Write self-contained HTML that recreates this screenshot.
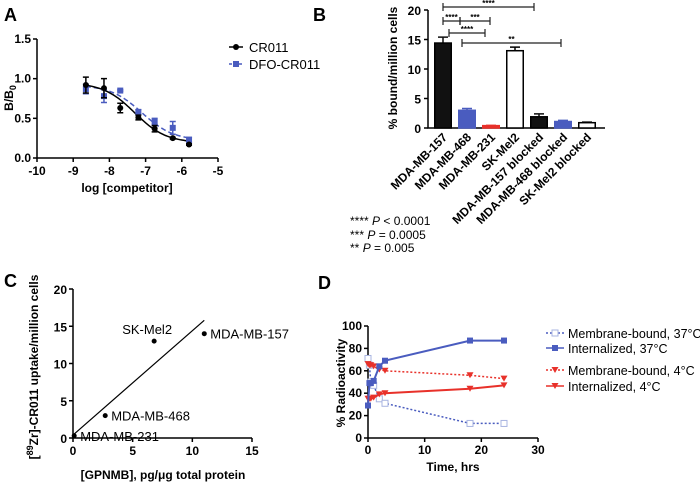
<!DOCTYPE html>
<html><head><meta charset="utf-8"><style>
body{margin:0;background:#fff}
svg{display:block;font-family:"Liberation Sans",Arial,sans-serif}
.t{font-weight:bold;font-size:12px}
</style></head><body>
<svg id="fig" width="700" height="486" viewBox="0 0 700 486" xmlns="http://www.w3.org/2000/svg">
<g id="pa"></g>
<g id="pb"></g>
<g id="pc"></g>
<g id="pd"></g>
</svg>
<script>
// Panel A data
const aX = [-8.65,-8.15,-7.7,-7.2,-6.75,-6.25,-5.8];
const aCR = [0.92,0.88,0.63,0.51,0.37,0.25,0.17];
const aCRerr = [0.1,0.12,0.06,0.03,0.04,0.01,0.01];
const aDFO = [0.87,0.78,0.85,0.58,0.46,0.38,0.23];
const aDFOerr = [0.06,0.08,0.01,0.03,0.04,0.08,0.03];
const aXTicks = [-10,-9,-8,-7,-6,-5];
const aYTicks = [0,0.5,1.0,1.5];
// Panel B data
const bCats = ["MDA-MB-157","MDA-MB-468","MDA-MB-231","SK-Mel2","MDA-MB-157 blocked","MDA-MB-468 blocked","SK-Mel2 blocked"];
const bVals = [14.4,3.0,0.4,13.1,1.9,1.1,0.9];
const bErr = [1.0,0.3,0.05,0.6,0.5,0.2,0.1];
const bYTicks = [0,5,10,15,20];
// Panel C data
const cX = [0.1,2.7,6.8,11];
const cY = [0.3,3,13,14];
const cLabels = ["MDA-MB-231","MDA-MB-468","SK-Mel2","MDA-MB-157"];
const cFit = [0.4,1.4]; // intercept, slope
const cXTicks = [0,5,10,15];
const cYTicks = [0,5,10,15,20];
// Panel D data
const dT = [0,0.25,0.5,1,2,3,18,24];
const dMem37 = [71,65,50,47,35,31,13,13];
const dInt37 = [29,49,49,51,64,69,87,87];
const dMem4 = [66,65,65,64,61,60,56,53];
const dInt4 = [35,35,35,36,39,40,44,47];
const dXTicks = [0,10,20,30];
const dYTicks = [0,20,40,60,80,100];

const NS="http://www.w3.org/2000/svg";
function mk(p,tag,at,txt){const e=document.createElementNS(NS,tag);for(const k in at)e.setAttribute(k,at[k]);if(txt!==undefined)e.textContent=txt;p.appendChild(e);return e;}
const BLUE="#4a5cbf",RED="#e8312a";

// ---------- Panel A ----------
(function(){
const g=document.getElementById('pa');
const X=v=>37+(v+10)/5*181, Y=v=>158-v/1.5*119;
let t=mk(g,'text',{x:4,y:21,'font-size':18,'font-weight':'bold'},'A');

let ax=mk(g,'path',{d:`M37,${Y(1.5)}V158H${X(-5)}`,stroke:'#000','stroke-width':1.5,fill:'none'});

aXTicks.forEach(v=>{mk(g,'line',{x1:X(v),x2:X(v),y1:158,y2:162,stroke:'#000','stroke-width':1.5});
 const l=mk(g,'text',{x:X(v),y:175,'text-anchor':'middle',class:'t','font-size':13},v);});
aYTicks.forEach(v=>{mk(g,'line',{x1:33,x2:37,y1:Y(v),y2:Y(v),stroke:'#000','stroke-width':1.5});
 const l=mk(g,'text',{x:31,y:Y(v)+4,'text-anchor':'end',class:'t','font-size':13},v.toFixed(1));});
t=mk(g,'text',{x:127,y:192,'text-anchor':'middle',class:'t','font-size':13},'log [competitor]');
t=mk(g,'text',{transform:'translate(13,98) rotate(-90)','text-anchor':'middle',class:'t'});
t.innerHTML='B/B<tspan font-size="9" dy="3">0</tspan>';
function sig(bot,top,ec50,h){return x=>bot+(top-bot)/(1+Math.pow(10,(x-ec50)*h));}
const f1=sig(0.19,0.95,-7.3,1), f2=sig(0.22,0.92,-7.1,1);
function curve(f,col,dash,name){let d='';for(let x=-8.65;x<=-5.79;x+=0.05)d+=(d?'L':'M')+X(x).toFixed(1)+','+Y(f(x)).toFixed(1);
 const p=mk(g,'path',{d,stroke:col,'stroke-width':1.5,fill:'none','stroke-dasharray':dash||'none'});}
curve(f2,BLUE,'5,3','dfo-cr011-fit');curve(f1,'#000','','cr011-fit');
aX.forEach((x,i)=>{
 [[aDFO,aDFOerr,BLUE,'dfo-point'],[aCR,aCRerr,'#000','cr011-point']].forEach(([ys,es,c,n])=>{
 const cx=X(x),cy=Y(ys[i]),e=es[i]/1.5*119;
 mk(g,'path',{d:`M${cx},${cy-e}V${cy+e}M${cx-3},${cy-e}H${cx+3}M${cx-3},${cy+e}H${cx+3}`,stroke:c,'stroke-width':1.5});
 const m=c==='#000'?mk(g,'circle',{cx,cy,r:3,fill:c}):mk(g,'rect',{x:cx-3,y:cy-3,width:6,height:6,fill:c});
 });
});
mk(g,'line',{x1:229,x2:243,y1:47,y2:47,stroke:'#000','stroke-width':1.5});mk(g,'circle',{cx:236,cy:47,r:3});
t=mk(g,'text',{x:249,y:52,'font-size':13},'CR011');
mk(g,'line',{x1:229,x2:243,y1:64,y2:64,stroke:BLUE,'stroke-width':1.5,'stroke-dasharray':'3,2'});mk(g,'rect',{x:233,y:61,width:6,height:6,fill:BLUE});
t=mk(g,'text',{x:249,y:69,'font-size':13},'DFO-CR011');
})();

// ---------- Panel B ----------
(function(){
const g=document.getElementById('pb');
const Y=v=>128-v/20*118, BX=i=>434+i*24, W=18;
let t=mk(g,'text',{x:313,y:21,'font-size':18,'font-weight':'bold'},'B');
let ax=mk(g,'path',{d:`M428,10V128H605`,stroke:'#000','stroke-width':1.5,fill:'none'});
bYTicks.forEach(v=>{mk(g,'line',{x1:424,x2:428,y1:Y(v),y2:Y(v),stroke:'#000','stroke-width':1.5});
 const l=mk(g,'text',{x:421,y:Y(v)+5,'text-anchor':'end',class:'t','font-size':15},v);});
t=mk(g,'text',{transform:'translate(397,68) rotate(-90)','text-anchor':'middle',class:'t','font-size':15},'% bound/million cells');
const fills=['#111',BLUE,RED,'#fff','#111',BLUE,'#fff'];
bCats.forEach((c,i)=>{
 const x=BX(i),y=Y(bVals[i]),ye=Y(bVals[i]+bErr[i]),cx=x+W/2;
 mk(g,'path',{d:`M${cx},${y}V${ye}M${cx-5},${ye}H${cx+5}`,stroke:fills[i]==='#fff'?'#000':fills[i],'stroke-width':1.5});
 const r=mk(g,'rect',{x:x+0.75,y,width:W-1.5,height:128-y,fill:fills[i],stroke:(fills[i]==='#fff'||fills[i]==='#111')?'#000':fills[i],'stroke-width':1.5});
 
 const l=mk(g,'text',{transform:`translate(${cx+5},${138}) rotate(-45)`,'text-anchor':'end',class:'t','font-size':15.5},c);
 
});
[[443,534,7,'****'],[443,460,21,'****'],[460,490,21,'***'],[449,485,33,'****'],[462,561,43,'**']].forEach(([a,b,y,s])=>{
 const p=mk(g,'path',{d:`M${a},${y-4}V${y+4}M${a},${y}H${b}M${b},${y-4}V${y+4}`,stroke:'#222','stroke-width':1.2,fill:'none'});
 
 mk(g,'text',{x:(a+b)/2,y:y-1,'text-anchor':'middle','font-size':8,'font-weight':'bold'},s);
});
[['**** ','< 0.0001',225],['*** ','= 0.0005',239],['** ','= 0.005',252]].forEach(([s,v,y])=>{
 const l=mk(g,'text',{x:350,y,'font-size':12});l.innerHTML=s+'<tspan font-style="italic">P</tspan> '+v;
 });
})();

// ---------- Panel C ----------
(function(){
const g=document.getElementById('pc');
const X=v=>73+v/15*179, Y=v=>438-v/20*149;
let t=mk(g,'text',{x:4,y:287,'font-size':18,'font-weight':'bold'},'C');
let ax=mk(g,'path',{d:`M73,${Y(20)}V438H${X(15)}`,stroke:'#000','stroke-width':1.5,fill:'none'});
cXTicks.forEach(v=>{mk(g,'line',{x1:X(v),x2:X(v),y1:438,y2:442,stroke:'#000','stroke-width':1.5});
 const l=mk(g,'text',{x:X(v),y:455,'text-anchor':'middle',class:'t','font-size':14},v);});
cYTicks.forEach(v=>{mk(g,'line',{x1:69,x2:73,y1:Y(v),y2:Y(v),stroke:'#000','stroke-width':1.5});
 const l=mk(g,'text',{x:67,y:Y(v)+5,'text-anchor':'end',class:'t','font-size':14},v);});
t=mk(g,'text',{x:163,y:479,'text-anchor':'middle',class:'t','font-size':13},'[GPNMB], pg/μg total protein');
t=mk(g,'text',{transform:'translate(38,367) rotate(-90)','text-anchor':'middle',class:'t','font-size':13});t.innerHTML='[<tspan font-size="9" dy="-5">89</tspan><tspan dy="5">Zr]-CR011 uptake/million cells</tspan>';

const xe=(15.8-cFit[0])/cFit[1];
let ln=mk(g,'line',{x1:X(0),y1:Y(cFit[0]),x2:X(xe),y2:Y(cFit[0]+cFit[1]*xe),stroke:'#000','stroke-width':1.2});
const off=[[6,4],[6,4],[-18,-8],[6,4]];
cX.forEach((x,i)=>{const c=mk(g,'circle',{cx:X(x),cy:Y(cY[i]),r:2.5});
 const l=mk(g,'text',{x:X(x)+off[i][0],y:Y(cY[i])+off[i][1]+1,'font-size':13,'text-anchor':i===2?'middle':'start'},cLabels[i]);
 if(i===2){l.setAttribute('x',X(x)-7);}
 });
})();

// ---------- Panel D ----------
(function(){
const g=document.getElementById('pd');
const X=v=>368+v/30*170, Y=v=>438-v/100*112;
let t=mk(g,'text',{x:318,y:289,'font-size':18,'font-weight':'bold'},'D');
let ax=mk(g,'path',{d:`M368,${Y(100)}V438H${X(30)}`,stroke:'#000','stroke-width':1.5,fill:'none'});
dXTicks.forEach(v=>{mk(g,'line',{x1:X(v),x2:X(v),y1:438,y2:442,stroke:'#000','stroke-width':1.5});
 const l=mk(g,'text',{x:X(v),y:454,'text-anchor':'middle',class:'t','font-size':13},v);});
dYTicks.forEach(v=>{mk(g,'line',{x1:364,x2:368,y1:Y(v),y2:Y(v),stroke:'#000','stroke-width':1.5});
 const l=mk(g,'text',{x:362,y:Y(v)+4,'text-anchor':'end',class:'t','font-size':13},v);});
t=mk(g,'text',{x:453,y:471,'text-anchor':'middle',class:'t','font-size':13},'Time, hrs');
t=mk(g,'text',{transform:'translate(345,383) rotate(-90)','text-anchor':'middle',class:'t','font-size':13},'% Radioactivity');
function marker(x,y,kind,col){if(kind==='open')return mk(g,'rect',{x:x-3,y:y-3,width:6,height:6,fill:'#fff',stroke:'#a8b4e0','stroke-width':1});
 if(kind==='sq')return mk(g,'rect',{x:x-3,y:y-3,width:6,height:6,fill:col});
 return mk(g,'path',{d:`M${x-3.5},${y-3}H${x+3.5}L${x},${y+3}Z`,fill:col});}
const series=[[dMem37,'#4a5cbf','2,2','open','membrane-bound-37c'],[dMem4,RED,'2,2','tri','membrane-bound-4c'],[dInt4,RED,'','tri','internalized-4c'],[dInt37,BLUE,'','sq','internalized-37c']];
series.forEach(([ys,col,dash,kind,name])=>{
 const d=dT.map((x,i)=>(i?'L':'M')+X(x).toFixed(1)+','+Y(ys[i]).toFixed(1)).join('');
 const p=mk(g,'path',{d,stroke:col,'stroke-width':dash?1.5:2,fill:'none','stroke-dasharray':dash||'none'});
 dT.forEach((x,i)=>{const m=marker(X(x),Y(ys[i]),kind,col);});
});
const leg=[['Membrane-bound, 37°C',BLUE,'2,2','open',333],['Internalized, 37°C',BLUE,'','sq',348],['Membrane-bound,  4°C',RED,'2,2','tri',370],['Internalized, 4°C',RED,'','tri',386]];
leg.forEach(([s,col,dash,kind,y])=>{mk(g,'line',{x1:546,x2:564,y1:y,y2:y,stroke:col,'stroke-width':1.5,'stroke-dasharray':dash||'none'});marker(555,y,kind,col);
 const l=mk(g,'text',{x:568,y:y+5,'font-size':12.5,'xml:space':'preserve'},s);});
})();
</script>
</body></html>
